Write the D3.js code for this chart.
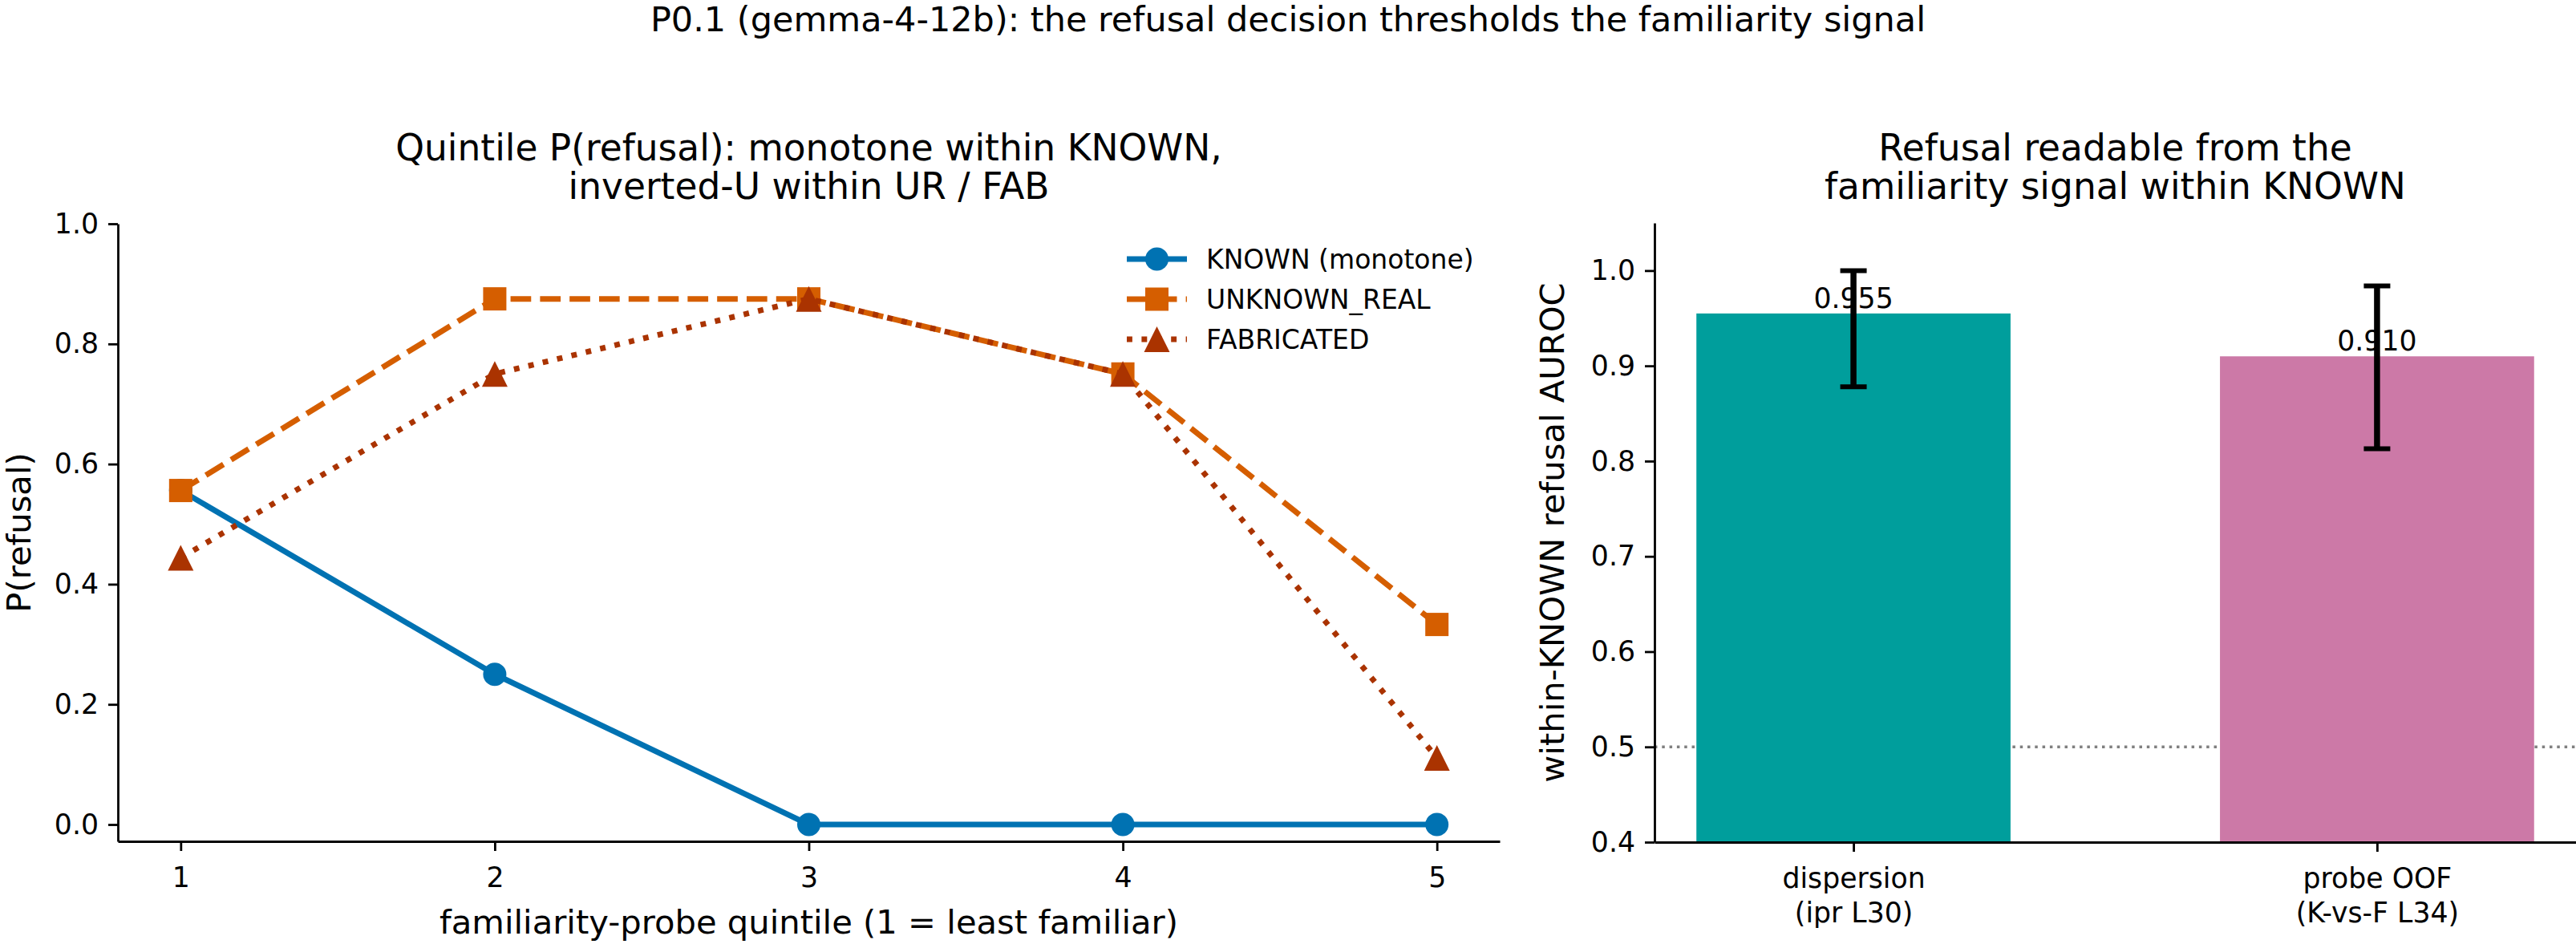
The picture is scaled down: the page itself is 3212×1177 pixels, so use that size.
<!DOCTYPE html>
<html lang="en">
<head>
<meta charset="utf-8">
<title>P0.1 refusal vs familiarity</title>
<script src="https://cdn.jsdelivr.net/npm/d3@7"></script>
<style>
  body { margin: 0; background: #fff; }
  svg text { font-family: "DejaVu Sans", sans-serif; fill: #000; }
</style>
</head>
<body>
<script>

// ---- data ----
var quintiles = [1, 2, 3, 4, 5];
var knownRefusal = [0.556, 0.25, 0, 0, 0];
var unknownRealRefusal = [0.556, 0.875, 0.875, 0.75, 0.333];
var fabricatedRefusal = [0.444, 0.75, 0.875, 0.75, 0.111];
var seriesNames = ["KNOWN (monotone)", "UNKNOWN_REAL", "FABRICATED"];

var barLabels = [["dispersion", "(ipr L30)"], ["probe OOF", "(K-vs-F L34)"]];
var barAuroc = [0.955, 0.910];
var ciLow = [0.878, 0.813];
var ciHigh = [1.0, 0.984];

var leftYTicks = [0, 0.2, 0.4, 0.6, 0.8, 1.0];
var rightYTicks = [0.4, 0.5, 0.6, 0.7, 0.8, 0.9, 1.0];

var width = 3212, height = 1177;
var fs = 34.7;        // tick labels
var labelFs = 41.7;   // axis labels
var legendFs = 33;
var titleFs = 45.5;

var svg = d3.select("body").append("svg")
    .attr("width", width)
    .attr("height", height);

svg.append("text")
    .attr("x", width / 2).attr("y", 39)
    .attr("text-anchor", "middle")
    .style("font-size", "43px")
    .text("P0.1 (gemma-4-12b): the refusal decision thresholds the familiarity signal");

function styleAxis(g) {
    g.selectAll("path.domain").attr("stroke", "#000").attr("stroke-width", 2.8);
    g.selectAll(".tick line").attr("stroke", "#000").attr("stroke-width", 2.8);
    g.selectAll(".tick text").style("font-size", fs + "px").attr("fill", "#000");
}

function title(cx, lines) {
    var t = svg.append("text").attr("text-anchor", "middle").style("font-size", titleFs + "px");
    lines.forEach(function(l, i) {
        t.append("tspan").attr("x", cx).attr("y", 200 + i * 48).text(l);
    });
}

// ---------------- left panel: quintile lines ----------------
var L = {left: 147, right: 1870, top: 279, bottom: 1049};
var x = d3.scaleLinear().domain([0.8, 5.2]).range([L.left, L.right]);
var y = d3.scaleLinear().domain([-0.028, 1.0]).range([L.bottom, L.top]);

title((L.left + L.right) / 2, ["Quintile P(refusal): monotone within KNOWN,", "inverted-U within UR / FAB"]);

var gx = svg.append("g").attr("transform", "translate(0," + L.bottom + ")")
    .call(d3.axisBottom(x).tickValues(quintiles).tickFormat(d3.format("d"))
        .tickSize(12).tickPadding(12).tickSizeOuter(0));
styleAxis(gx);
gx.selectAll(".tick text").attr("y", 32);
var gy = svg.append("g").attr("transform", "translate(" + L.left + ",0)")
    .call(d3.axisLeft(y).tickValues(leftYTicks).tickFormat(d3.format(".1f"))
        .tickSize(12).tickPadding(12).tickSizeOuter(0));
styleAxis(gy);

svg.append("text")
    .attr("x", (L.left + L.right) / 2).attr("y", 1164)
    .attr("text-anchor", "middle").style("font-size", labelFs + "px")
    .text("familiarity-probe quintile (1 = least familiar)");
svg.append("text")
    .attr("transform", "translate(38," + (L.top + L.bottom) / 2 + ") rotate(-90)")
    .attr("text-anchor", "middle").style("font-size", labelFs + "px")
    .text("P(refusal)");

var series = [
    {name: seriesNames[0], values: knownRefusal, color: "#0072B2", dash: null, marker: "circle"},
    {name: seriesNames[1], values: unknownRealRefusal, color: "#D55E00", dash: "25.7,11.1", marker: "square"},
    {name: seriesNames[2], values: fabricatedRefusal, color: "#AA3300", dash: "6.9,11.5", marker: "triangle"}
];

var symbols = {
    circle: d3.symbol().type(d3.symbolCircle).size(Math.PI * 14.5 * 14.5),
    square: d3.symbol().type(d3.symbolSquare).size(29 * 29),
    triangle: function() { return "M0,-16L16,16L-16,16Z"; }
};

var line = d3.line().x(function(d) { return x(d.q); }).y(function(d) { return y(d.v); });

series.forEach(function(s) {
    var pts = quintiles.map(function(q, i) { return {q: q, v: s.values[i]}; });
    svg.append("path")
        .attr("d", line(pts))
        .attr("fill", "none")
        .attr("stroke", s.color)
        .attr("stroke-width", 7)
        .attr("stroke-dasharray", s.dash)
        .attr("stroke-linejoin", "round");
    svg.selectAll(null).data(pts).enter().append("path")
        .attr("d", symbols[s.marker])
        .attr("transform", function(d) { return "translate(" + x(d.q) + "," + y(d.v) + ")"; })
        .attr("fill", s.color);
});

// legend
var leg = svg.append("g").attr("transform", "translate(1405,323)");
series.forEach(function(s, i) {
    var row = leg.append("g").attr("transform", "translate(0," + i * 50 + ")");
    row.append("line").attr("x1", 0).attr("x2", 75).attr("y1", 0).attr("y2", 0)
        .attr("stroke", s.color).attr("stroke-width", 7).attr("stroke-dasharray", s.dash);
    row.append("path").attr("d", symbols[s.marker]).attr("transform", "translate(37.5,0)").attr("fill", s.color);
    row.append("text").attr("x", 99).attr("y", 12).style("font-size", legendFs + "px").text(s.name);
});

// ---------------- right panel: AUROC bars ----------------
var R = {left: 2063, right: 3212, top: 278, bottom: 1050};
var xb = d3.scaleLinear().domain([-0.38, 1.38]).range([R.left, R.right]);
var yb = d3.scaleLinear().domain([0.4, 1.05]).range([R.bottom, R.top]);
var barW = xb(0.3) - xb(-0.3);
var barColors = ["#009E9C", "#CC79A7"];

title((R.left + R.right) / 2, ["Refusal readable from the", "familiarity signal within KNOWN"]);

// chance line
svg.append("line")
    .attr("x1", R.left).attr("x2", R.right).attr("y1", yb(0.5)).attr("y2", yb(0.5))
    .attr("stroke", "#808080").attr("stroke-width", 3.5).attr("stroke-dasharray", "3.5,5.8");

svg.selectAll(null).data(barAuroc).enter().append("rect")
    .attr("x", function(d, i) { return xb(i) - barW / 2; })
    .attr("y", function(d) { return yb(d); })
    .attr("width", barW)
    .attr("height", function(d) { return yb(0.4) - yb(d); })
    .attr("fill", function(d, i) { return barColors[i]; });

svg.selectAll(null).data(barAuroc).enter().append("text")
    .attr("x", function(d, i) { return xb(i); })
    .attr("y", function(d) { return yb(d) - 7; })
    .attr("text-anchor", "middle").style("font-size", fs + "px")
    .text(function(d) { return d3.format(".3f")(d); });

barAuroc.forEach(function(d, i) {
    var cx = xb(i);
    svg.append("line").attr("x1", cx).attr("x2", cx).attr("y1", yb(ciLow[i])).attr("y2", yb(ciHigh[i]))
        .attr("stroke", "#000").attr("stroke-width", 7.5);
    [ciLow[i], ciHigh[i]].forEach(function(v) {
        svg.append("line").attr("x1", cx - 16.5).attr("x2", cx + 16.5).attr("y1", yb(v)).attr("y2", yb(v))
            .attr("stroke", "#000").attr("stroke-width", 6);
    });
});

var gxb = svg.append("g").attr("transform", "translate(0," + R.bottom + ")")
    .call(d3.axisBottom(xb).tickValues([0, 1]).tickFormat("")
        .tickSize(12).tickPadding(12).tickSizeOuter(0));
styleAxis(gxb);
gxb.selectAll(".tick").each(function(d) {
    var t = d3.select(this).append("text").attr("text-anchor", "middle").style("font-size", fs + "px");
    barLabels[d].forEach(function(l, j) {
        t.append("tspan").attr("x", 0).attr("y", 57 + j * 43).text(l);
    });
});
var gyb = svg.append("g").attr("transform", "translate(" + R.left + ",0)")
    .call(d3.axisLeft(yb).tickValues(rightYTicks).tickFormat(d3.format(".1f"))
        .tickSize(12).tickPadding(12).tickSizeOuter(0));
styleAxis(gyb);

svg.append("text")
    .attr("transform", "translate(1950," + (R.top + R.bottom) / 2 + ") rotate(-90)")
    .attr("text-anchor", "middle").style("font-size", labelFs + "px")
    .text("within-KNOWN refusal AUROC");

</script>
</body>
</html>
